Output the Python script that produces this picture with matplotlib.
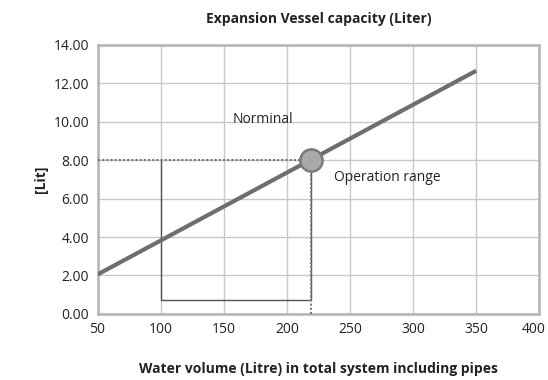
import matplotlib.pyplot as plt
import matplotlib.transforms as mtransforms
import numpy as np

# capacity line end points and operating point
water_volume = [50, 350]
vessel_capacity = [2.05, 12.65]
op_volume = 219
op_capacity = 8.0
box_left = 100
box_bottom = 0.7

xticks = [50, 100, 150, 200, 250, 300, 350, 400]
yticks = [0, 2, 4, 6, 8, 10, 12, 14]

plt.rcParams['font.family'] = ['Open Sans', 'DejaVu Sans']

fig = plt.figure(figsize=(5.48, 3.8), dpi=100)
ax = fig.add_axes([0.178, 0.174, 0.806, 0.708])

ax.set_xlim(50, 400)
ax.set_ylim(0, 14)
ax.set_xticks(xticks)
ax.set_yticks(yticks)
ax.set_yticklabels(['%.2f' % v for v in yticks])
ax.grid(True, color='#c8c8c8', linewidth=1)
ax.set_axisbelow(True)
for s in ax.spines.values():
    s.set_color('#b4b4b4')
    s.set_linewidth(1.8)
ax.tick_params(length=0, labelsize=10, pad=6, colors='#222222')

# nudge the last x label so it stays inside the figure
last = ax.get_xticklabels()[-1]
last.set_transform(last.get_transform() +
                   mtransforms.ScaledTranslation(-6 / 100, 0, fig.dpi_scale_trans))

# operation box
ax.plot([box_left, box_left, op_volume, op_volume],
        [op_capacity, box_bottom, box_bottom, op_capacity],
        color='#555555', linewidth=1, zorder=2)
ax.plot([50, op_volume], [op_capacity, op_capacity], color='#777777',
        linewidth=1.5, linestyle=(0, (1, 1)), zorder=3)
ax.plot([op_volume, op_volume], [0, op_capacity], color='#777777',
        linewidth=1.5, linestyle=(0, (1, 1)), zorder=3)

ax.plot(water_volume, vessel_capacity, color='#6e6e6e', linewidth=3,
        solid_capstyle='butt', zorder=4)
ax.plot([op_volume], [op_capacity], 'o', markersize=16,
        markerfacecolor='#a9a9ab', markeredgecolor='#7a7a7a',
        markeredgewidth=1.8, zorder=5)

ax.text(157, 10.1, 'Norminal', fontsize=10, va='center', ha='left',
        color='#222222')
ax.text(237, 7.1, 'Operation range', fontsize=10, va='center', ha='left',
        color='#222222')

ax.set_title('Expansion Vessel capacity (Liter)', fontsize=10,
             fontweight='bold', pad=16, color='#222222')
ax.set_xlabel('Water volume (Litre) in total system including pipes',
              fontsize=10, fontweight='bold', labelpad=18, color='#222222')
ax.set_ylabel('[Lit]', fontsize=10, fontweight='bold', labelpad=4,
              color='#222222')

fig.savefig('out.png', dpi=100)
